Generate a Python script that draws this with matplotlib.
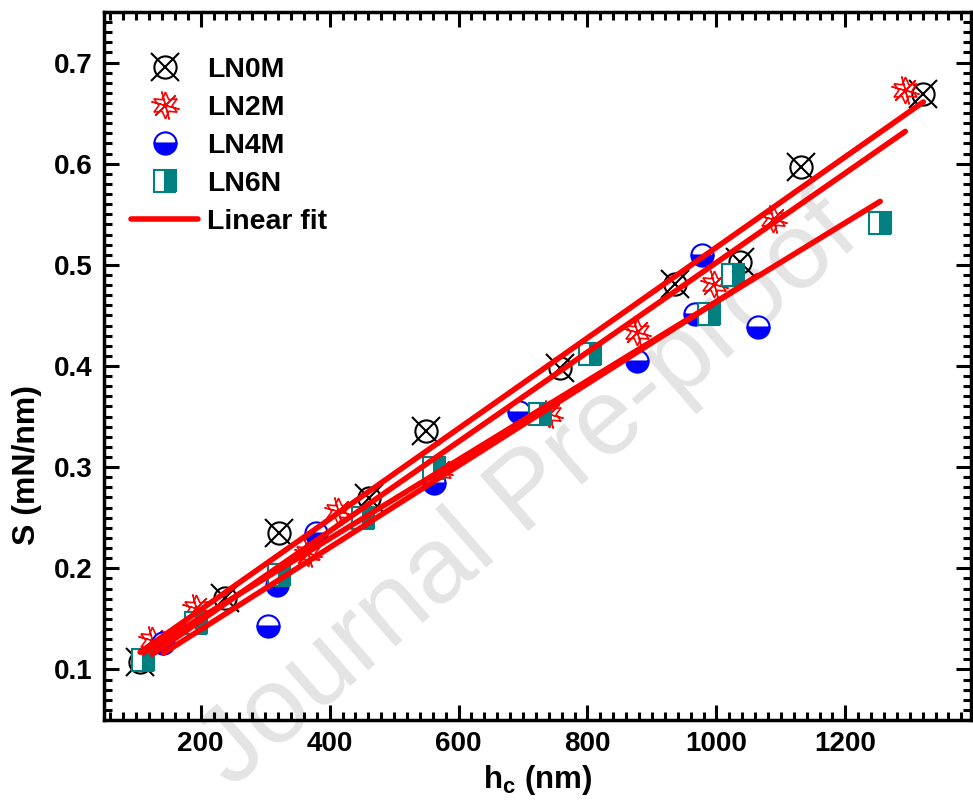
import numpy as np
import matplotlib
matplotlib.use('Agg')
import matplotlib.pyplot as plt
from matplotlib.legend_handler import HandlerTuple
from matplotlib.lines import Line2D
from matplotlib.ticker import MultipleLocator

plt.rcParams['font.family'] = ['Liberation Sans', 'DejaVu Sans']
plt.rcParams['font.weight'] = 'bold'
plt.rcParams['mathtext.fontset'] = 'custom'
plt.rcParams['mathtext.rm'] = 'Liberation Sans:bold'
plt.rcParams['mathtext.it'] = 'Liberation Sans:bold'

# ---- data (h_c in nm, S in mN/nm) ----
h_ln0m = [106, 238, 321, 461, 550, 757, 935, 1037, 1131, 1321]
s_ln0m = [0.107, 0.171, 0.235, 0.269, 0.336, 0.398, 0.481, 0.503, 0.597, 0.669]

h_ln2m = [125, 192, 366, 413, 569, 740, 877, 997, 1087, 1293]
s_ln2m = [0.129, 0.161, 0.215, 0.257, 0.296, 0.353, 0.434, 0.481, 0.545, 0.673]

h_ln4m = [142, 305, 319, 379, 562, 693, 877, 967, 978, 1064]
s_ln4m = [0.126, 0.143, 0.183, 0.235, 0.284, 0.355, 0.405, 0.451, 0.510, 0.439]

h_ln6n = [111, 192, 321, 452, 562, 726, 804, 989, 1025, 1254]
s_ln6n = [0.109, 0.146, 0.193, 0.250, 0.299, 0.353, 0.412, 0.451, 0.490, 0.541]

labels = ['LN0M', 'LN2M', 'LN4M', 'LN6N', 'Linear fit']

fig = plt.figure(figsize=(9.73, 8.10), dpi=100)
ax = fig.add_axes([0.1069, 0.1111, 0.8911, 0.8741])

teal = '#008080'

# LN0M: circle with cross
ms = 16
ax.plot(h_ln0m, s_ln0m, ls='none', marker='o', ms=ms, mfc='none', mec='black', mew=1.5, zorder=3)
ax.plot(h_ln0m, s_ln0m, ls='none', marker='x', ms=ms * 1.25, mec='black', mew=1.5, zorder=3)
# LN2M: spiky star
ax.plot(h_ln2m, s_ln2m, ls='none', marker=(6, 1, 0), ms=ms * 1.2, mfc='none', mec='red', mew=1.2, zorder=3)
ax.plot(h_ln2m, s_ln2m, ls='none', marker=(6, 2, 15), ms=ms * 1.3, mec='red', mew=1.0, zorder=3)
# LN4M: bottom half filled circle
ax.plot(h_ln4m, s_ln4m, ls='none', marker='o', ms=ms, fillstyle='bottom', mfc='blue',
        mfcalt='white', mec='blue', mew=1.5, zorder=3)
# LN6N: right half filled square
ax.plot(h_ln6n, s_ln6n, ls='none', marker='s', ms=ms * 0.95, fillstyle='right', mfc=teal,
        mfcalt='white', mec=teal, mew=1.5, zorder=3)

# linear fits
for hx, sy in [(h_ln0m, s_ln0m), (h_ln2m, s_ln2m), (h_ln4m, s_ln4m), (h_ln6n, s_ln6n)]:
    p = np.polyfit(hx, sy, 1)
    xx = np.array([min(hx), max(hx)])
    ax.plot(xx, np.polyval(p, xx), color='red', lw=4, solid_capstyle='round', zorder=4)

ax.set_xlim(50, 1395)
ax.set_ylim(0.05, 0.75)
ax.xaxis.set_major_locator(MultipleLocator(200))
ax.xaxis.set_minor_locator(MultipleLocator(20))
ax.yaxis.set_major_locator(MultipleLocator(0.1))
ax.yaxis.set_minor_locator(MultipleLocator(0.01))
ax.tick_params(which='both', direction='in', top=True, right=True, width=2.2)
ax.tick_params(which='major', length=11, labelsize=20, pad=8)
ax.tick_params(which='minor', length=6)
for sp in ax.spines.values():
    sp.set_linewidth(2.5)
for lab in ax.get_xticklabels() + ax.get_yticklabels():
    lab.set_fontweight('bold')

ax.set_xlabel(r'h$_\mathrm{c}$ (nm)', fontsize=22.5, fontweight='bold', labelpad=4)
ax.set_ylabel('S (mN/nm)', fontsize=23, fontweight='bold')
ax.yaxis.set_label_coords(-0.072, 0.36)

# watermark
ax.text(0.49, 0.32, 'Journal Pre-proof', transform=ax.transAxes, rotation=41,
        fontsize=78, color='#e4e4e4', fontweight='normal', ha='center', va='center',
        zorder=0)

# legend
h0 = (Line2D([], [], ls='none', marker='o', ms=ms, mfc='none', mec='black', mew=1.5),
      Line2D([], [], ls='none', marker='x', ms=ms * 1.25, mec='black', mew=1.5))
h2 = (Line2D([], [], ls='none', marker=(6, 1, 0), ms=ms * 1.2, mfc='none', mec='red', mew=1.2),
      Line2D([], [], ls='none', marker=(6, 2, 15), ms=ms * 1.3, mec='red', mew=1.0))
h4 = Line2D([], [], ls='none', marker='o', ms=ms, fillstyle='bottom', mfc='blue',
            mfcalt='white', mec='blue', mew=1.5)
h6 = Line2D([], [], ls='none', marker='s', ms=ms * 0.95, fillstyle='right', mfc=teal,
            mfcalt='white', mec=teal, mew=1.5)
hf = Line2D([], [], color='red', lw=4, solid_capstyle='round')
leg = ax.legend([h0, h2, h4, h6, hf], labels, loc='upper left', frameon=False,
                handler_map={tuple: HandlerTuple(ndivide=1)}, prop={'size': 20.5, 'weight': 'bold'},
                handlelength=2.35, handletextpad=0.3, labelspacing=0.42,
                bbox_to_anchor=(0.002, 0.972), borderaxespad=0.5)

fig.savefig('out.png', dpi=100)
